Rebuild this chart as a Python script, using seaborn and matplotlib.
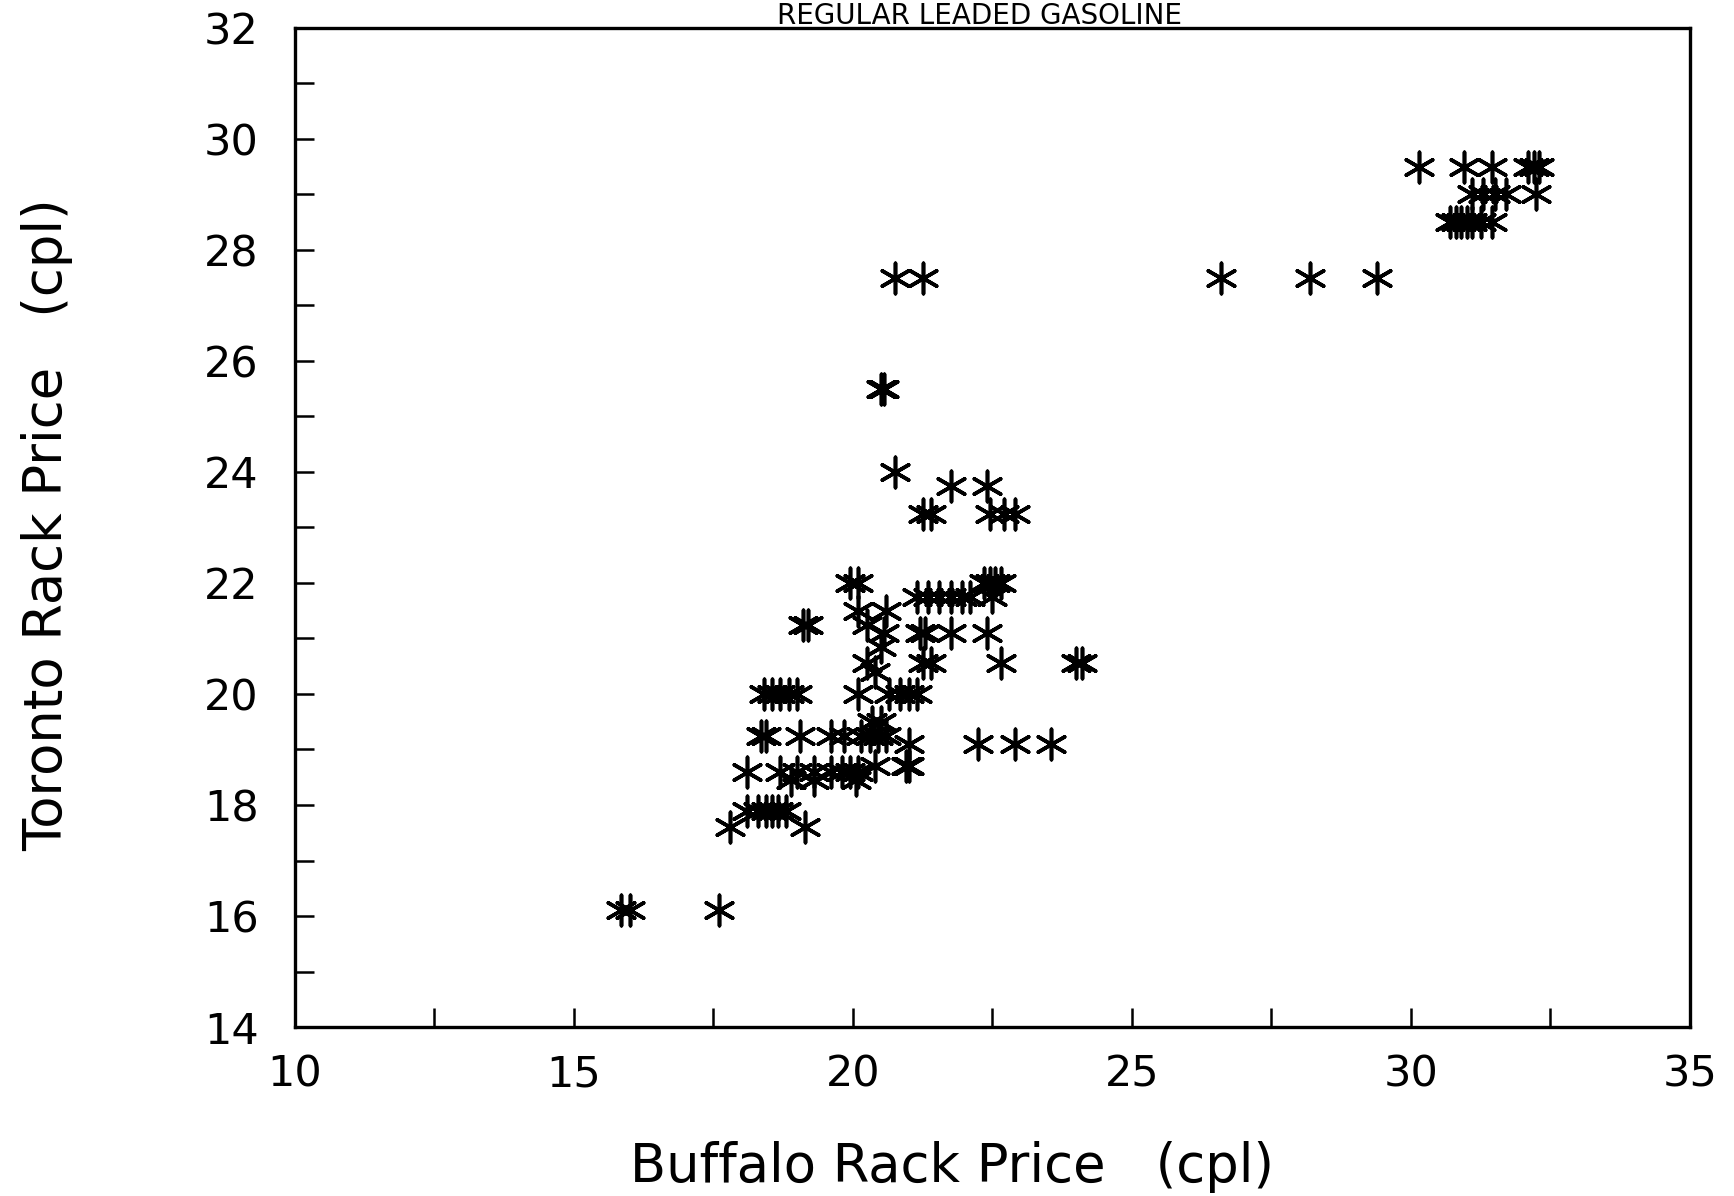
import matplotlib
matplotlib.use('Agg')
import matplotlib.pyplot as plt
import pandas as pd
import seaborn as sns
from matplotlib.ticker import MultipleLocator

# Buffalo vs Toronto rack prices (cpl)
buffalo = [15.85, 16.0, 17.6,
           17.8, 19.15,
           18.1, 18.3, 18.45, 18.55, 18.65, 18.8,
           18.9, 19.3, 20.05,
           18.1, 18.7, 19.0, 19.3, 19.6, 19.8, 19.95, 20.1,
           20.4, 20.95, 21.0,
           21.0, 22.25, 22.9, 23.55,
           18.35, 18.45, 19.05, 19.6, 19.85, 20.15, 20.3, 20.45, 20.6,
           20.35, 20.5,
           18.4, 18.55, 18.7, 18.85, 19.0, 20.1, 20.65, 20.85, 21.0, 21.15,
           20.4,
           20.25, 21.25, 21.4, 22.65, 24.0, 24.1,
           20.5,
           20.55, 21.2, 21.3, 21.75, 22.4,
           19.1, 19.2, 20.25,
           20.1, 20.6,
           21.15, 21.35, 21.55, 21.75, 21.95, 22.1, 22.5,
           19.95, 20.1, 22.35, 22.45, 22.55, 22.65,
           21.25, 21.4, 22.45, 22.7, 22.9,
           21.75, 22.4,
           20.75,
           20.5, 20.55,
           20.75, 21.25, 26.6, 28.2, 29.4,
           30.7, 30.8, 30.9, 31.0, 31.1, 31.25, 31.45,
           31.1, 31.3, 31.5, 31.7, 32.25,
           30.15, 30.95, 31.45, 32.1, 32.2, 32.3]

toronto = [16.1] * 3 + [17.6] * 2 + [17.9] * 6 + [18.45] * 3 + [18.6] * 8 \
    + [18.7] * 3 + [19.1] * 4 + [19.25] * 9 + [19.5] * 2 + [20.0] * 10 \
    + [20.4] * 1 + [20.55] * 6 + [20.85] * 1 + [21.1] * 5 + [21.25] * 3 \
    + [21.5] * 2 + [21.75] * 7 + [22.0] * 6 + [23.25] * 5 + [23.75] * 2 \
    + [24.0] * 1 + [25.5] * 2 + [27.5] * 5 + [28.5] * 7 + [29.0] * 5 + [29.5] * 6

df = pd.DataFrame({'buffalo': buffalo, 'toronto': toronto})

sns.set_style('white')
plt.rcParams['font.family'] = ['DejaVu Sans']
plt.rcParams['text.color'] = 'black'
plt.rcParams['xtick.color'] = 'black'
plt.rcParams['ytick.color'] = 'black'

fig = plt.figure(figsize=(17.34, 11.96), dpi=100)
ax = fig.add_axes([0.170, 0.1413, 0.8046, 0.8353])

sns.scatterplot(data=df, x='buffalo', y='toronto', ax=ax, marker=(6, 2, 0),
                color='black', s=480, linewidth=2.6, legend=False)

ax.set_xlim(10, 35)
ax.set_ylim(14, 32)
ax.xaxis.set_major_locator(MultipleLocator(5))
ax.xaxis.set_minor_locator(MultipleLocator(2.5))
ax.yaxis.set_major_locator(MultipleLocator(2))
ax.yaxis.set_minor_locator(MultipleLocator(1))
ax.tick_params(axis='both', which='both', direction='in', length=14,
               width=1.8, color='black', bottom=True, left=True, top=False, right=False)
ax.tick_params(axis='x', which='major', labelsize=31, pad=19)
ax.tick_params(axis='y', which='major', labelsize=31, pad=26)
for sp in ax.spines.values():
    sp.set_linewidth(2.4)
    sp.set_color('black')
ax.set_xlabel('')
ax.set_ylabel('')

fig.text(0.549, 0.024, 'Buffalo Rack Price   (cpl)', fontsize=38,
         ha='center', va='center')
fig.text(0.027, 0.561, 'Toronto Rack Price   (cpl)', fontsize=38,
         ha='center', va='center', rotation=90)
# the scan crops this title at the top edge; keep it whole in the strip above the axes
fig.text(0.565, 1 - 2 / 1196, 'REGULAR LEADED GASOLINE', fontsize=20,
         ha='center', va='top')

fig.savefig('out.png', dpi=100)
